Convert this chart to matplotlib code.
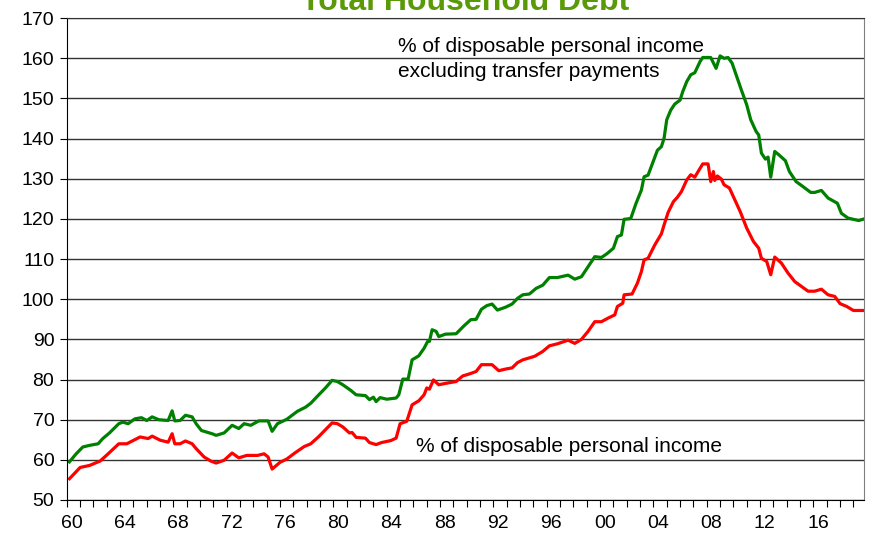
import matplotlib
matplotlib.use("Agg")
import matplotlib.pyplot as plt

plt.rcParams['font.family'] = ['Liberation Sans', 'DejaVu Sans']

# total household debt, % of income (fractional years)
green_t = [1960.2, 1960.7, 1961.2, 1961.7, 1962.35, 1962.7, 1963.2, 1963.9, 1964.2, 1964.6,
           1965.1, 1965.6, 1966.0, 1966.4, 1966.9, 1967.6, 1967.9, 1968.1, 1968.5, 1968.9,
           1969.4, 1969.7, 1970.1, 1970.5, 1970.9, 1971.2, 1971.8, 1972.4, 1972.9, 1973.3,
           1973.8, 1974.4, 1975.1, 1975.4, 1975.8, 1976.5, 1977.3, 1977.9, 1978.3, 1978.9,
           1979.4, 1979.9, 1980.3, 1980.7, 1981.3, 1981.7, 1982.4, 1982.7, 1983.0, 1983.2,
           1983.5, 1984.0, 1984.7, 1984.9, 1985.2, 1985.6, 1985.9, 1986.4, 1986.8, 1987.1,
           1987.2, 1987.4, 1987.7, 1987.9, 1988.4, 1989.2, 1989.8, 1990.3, 1990.7, 1991.1,
           1991.5, 1991.9, 1992.3, 1992.9, 1993.4, 1993.8, 1994.2, 1994.7, 1995.2, 1995.7,
           1996.2, 1996.8, 1997.6, 1998.1, 1998.6, 1999.1, 1999.6, 2000.1, 2000.5, 2001.0,
           2001.3, 2001.6, 2001.8, 2002.3, 2002.7, 2003.1, 2003.3, 2003.6, 2004.3, 2004.6,
           2004.8, 2005.0, 2005.3, 2005.6, 2006.0, 2006.2, 2006.5, 2006.8, 2007.1, 2007.5,
           2007.7, 2008.3, 2008.7, 2009.0, 2009.3, 2009.6, 2009.9, 2010.2, 2010.6, 2011.0,
           2011.3, 2011.7, 2011.9, 2012.1, 2012.4, 2012.6, 2012.8, 2013.1, 2013.4, 2013.9,
           2014.2, 2014.7, 2015.2, 2015.8, 2016.1, 2016.6, 2017.1, 2017.8, 2018.1, 2018.6,
           2019.4, 2019.8]
green_v = [59.5, 61.5, 63.2, 63.6, 64.0, 65.3, 66.7, 69.0, 69.4, 69.0,
           70.2, 70.5, 69.8, 70.7, 70.0, 69.8, 72.2, 69.7, 69.8, 71.1,
           70.7, 69.0, 67.3, 66.9, 66.5, 66.1, 66.7, 68.6, 67.8, 69.0,
           68.6, 69.7, 69.7, 67.1, 69.0, 70.1, 72.1, 73.1, 74.1, 76.2,
           77.9, 79.8, 79.5, 78.7, 77.3, 76.2, 76.0, 75.0, 75.6, 74.5,
           75.5, 75.1, 75.4, 76.2, 80.1, 80.1, 84.9, 85.9, 87.8, 89.7,
           89.5, 92.4, 92.0, 90.7, 91.3, 91.4, 93.4, 94.9, 95.0, 97.5,
           98.4, 98.8, 97.3, 98.0, 98.8, 100.2, 101.1, 101.3, 102.7, 103.5,
           105.4, 105.4, 106.0, 105.0, 105.6, 108.1, 110.6, 110.4, 111.3, 112.7,
           115.6, 116.0, 119.9, 120.1, 123.9, 127.2, 130.5, 130.9, 137.1, 138.0,
           140.1, 144.7, 147.1, 148.6, 149.6, 151.7, 154.2, 155.9, 156.4, 159.2,
           160.2, 160.2, 157.5, 160.6, 160.0, 160.2, 158.8, 155.9, 152.1, 148.4,
           144.7, 141.8, 140.9, 136.4, 134.9, 135.4, 130.4, 136.8, 136.0, 134.5,
           131.8, 129.3, 128.1, 126.6, 126.6, 127.1, 125.2, 123.9, 121.4, 120.2,
           119.6, 120.0]

red_t = [1960.2, 1961.0, 1961.7, 1962.5, 1963.1, 1963.9, 1964.5, 1965.5, 1966.1, 1966.4,
         1967.0, 1967.6, 1967.9, 1968.1, 1968.5, 1968.9, 1969.4, 1969.7, 1970.3, 1970.8,
         1971.2, 1971.8, 1972.4, 1972.9, 1973.5, 1974.3, 1974.8, 1975.1, 1975.4, 1976.0,
         1976.5, 1977.1, 1977.8, 1978.3, 1978.9, 1979.4, 1979.9, 1980.3, 1980.7, 1981.2,
         1981.4, 1981.7, 1982.4, 1982.7, 1983.2, 1983.6, 1984.3, 1984.7, 1985.0, 1985.5,
         1985.9, 1986.4, 1986.8, 1987.0, 1987.2, 1987.5, 1987.9, 1988.5, 1989.2, 1989.7,
         1990.2, 1990.7, 1991.1, 1991.9, 1992.4, 1992.9, 1993.4, 1993.8, 1994.2, 1995.1,
         1995.7, 1996.2, 1996.8, 1997.6, 1998.1, 1998.6, 1999.1, 1999.6, 2000.1, 2000.6,
         2001.1, 2001.3, 2001.7, 2001.8, 2002.4, 2002.8, 2003.1, 2003.3, 2003.6, 2004.1,
         2004.6, 2004.8, 2005.1, 2005.5, 2005.8, 2006.1, 2006.5, 2006.8, 2007.1, 2007.5,
         2007.7, 2008.1, 2008.3, 2008.5, 2008.6, 2008.8, 2009.1, 2009.3, 2009.7, 2010.1,
         2010.5, 2011.0, 2011.5, 2011.9, 2012.1, 2012.5, 2012.8, 2013.1, 2013.6, 2014.1,
         2014.6, 2015.1, 2015.6, 2016.1, 2016.6, 2017.1, 2017.6, 2018.0, 2018.5, 2019.0,
         2019.8]
red_v = [55.3, 58.1, 58.6, 59.7, 61.5, 64.0, 64.0, 65.7, 65.3, 65.9,
         64.9, 64.4, 66.5, 64.0, 64.0, 64.7, 64.0, 62.8, 60.7, 59.7,
         59.2, 59.9, 61.7, 60.5, 61.1, 61.1, 61.5, 60.7, 57.7, 59.4,
         60.2, 61.7, 63.3, 64.0, 65.8, 67.5, 69.2, 69.0, 68.2, 66.7,
         66.8, 65.6, 65.4, 64.3, 63.8, 64.3, 64.8, 65.4, 69.0, 69.6,
         73.7, 74.7, 76.2, 77.9, 77.6, 79.9, 78.7, 79.1, 79.5, 80.9,
         81.4, 82.0, 83.7, 83.7, 82.2, 82.6, 82.9, 84.2, 84.9, 85.8,
         87.0, 88.4, 88.9, 89.8, 89.0, 90.0, 92.0, 94.4, 94.4, 95.3,
         96.1, 98.2, 99.0, 101.1, 101.3, 104.0, 106.9, 109.8, 110.2, 113.5,
         116.3, 118.5, 121.6, 124.3, 125.4, 126.8, 129.7, 131.0, 130.4, 132.6,
         133.7, 133.7, 129.3, 131.8, 129.6, 130.7, 129.9, 128.5, 127.7, 124.8,
         121.9, 117.7, 114.4, 112.7, 110.2, 109.4, 106.1, 110.5, 109.0, 106.5,
         104.4, 103.2, 102.0, 102.0, 102.5, 101.1, 100.7, 98.9, 98.2, 97.2,
         97.2]

label_years = list(range(1960, 2017, 4))
label_text = ['60', '64', '68', '72', '76', '80', '84', '88', '92', '96',
              '00', '04', '08', '12', '16']

fig = plt.figure(figsize=(8.79, 5.42), dpi=100)
ax = fig.add_axes([0.076, 0.0775, 0.907, 0.889])

ax.set_ylim(50, 170)
ax.set_xlim(1960, 2019.8)
ax.set_yticks(range(50, 171, 10))
ax.yaxis.grid(True, color='#333333', linewidth=1.0)
ax.set_axisbelow(True)

ax.plot(green_t, green_v, color='#008000', linewidth=2.3, solid_joinstyle='round')
ax.plot(red_t, red_v, color='#ff0000', linewidth=2.3, solid_joinstyle='round')

# labels sit between the yearly tick marks
ax.set_xticks([y + 0.35 for y in label_years])
ax.set_xticklabels(label_text)
ax.set_xticks(range(1960, 2020), minor=True)
ax.tick_params(axis='x', which='major', length=0, pad=11, labelsize=14)
ax.tick_params(axis='x', which='minor', length=5, direction='out', width=0.8)
ax.tick_params(axis='y', length=5, direction='out', width=0.8, pad=4, labelsize=14)

ax.spines['left'].set_color('black')
ax.spines['bottom'].set_color('black')
ax.spines['top'].set_color('#333333')
ax.spines['right'].set_color('#808080')

fig.text(398 / 879, 1.0 - 51.7 / 542, '% of disposable personal income',
         fontsize=15, va='baseline', ha='left')
fig.text(398 / 879, 1.0 - 76.7 / 542, 'excluding transfer payments',
         fontsize=15, va='baseline', ha='left')
fig.text(416 / 879, 1.0 - 451.7 / 542, '% of disposable personal income',
         fontsize=15, va='baseline', ha='left')

fig.text(0.529, 1.0 - 10 / 542, 'Total Household Debt', color='#5a9a08', fontsize=23,
         fontweight='bold', ha='center', va='baseline')

fig.savefig('out.png', dpi=100)
